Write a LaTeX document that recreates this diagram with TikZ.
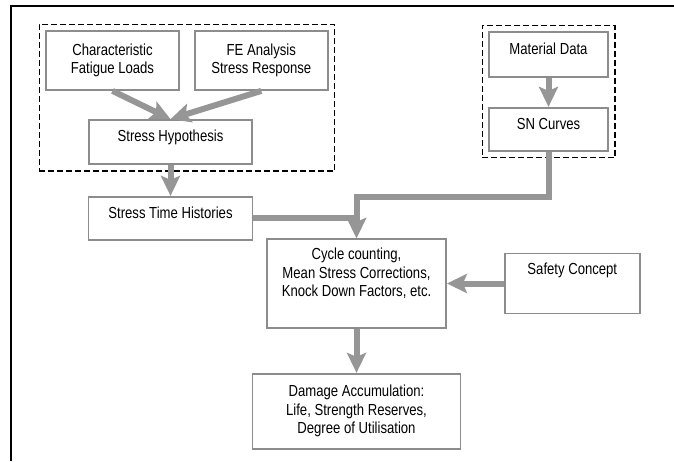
\documentclass[tikz,border=0pt]{standalone}
\usepackage{fontspec}
\setmainfont{Liberation Sans}[FakeStretch=0.82]
\usetikzlibrary{arrows.meta, positioning, fit}
\definecolor{boxgray}{RGB}{140,140,140}
\definecolor{arrowgray}{RGB}{150,150,150}

\begin{document}
\begin{tikzpicture}[
    x=1pt, y=1pt,
    node distance=30pt,
    box/.style={draw=boxgray, line width=1.8pt, rectangle, align=center, inner sep=4pt, font=\fontsize{16}{18.5}\selectfont},
    lift/.style={text height=11.6pt, text depth=#1},
    group/.style={draw, dash pattern=on 6pt off 3pt, line width=1.2pt, inner sep=6pt},
    arrow/.style={-{Stealth[length=20pt, width=19pt, inset=4pt]}, line width=6pt, draw=arrowgray}
]
\useasboundingbox (0,0) rectangle (674,-461);
% frame
\draw[line width=2.5pt] (11,-461) -- (11,-6) -- (674,-6);

% loads and stresses
\node[box, minimum width=133pt, minimum height=59pt] (char) at (112.5,-60.5) {Characteristic\\Fatigue Loads};
\node[box, minimum width=133pt, minimum height=59pt, right=14pt of char] (fe) {FE Analysis\\Stress Response};
\node[box, lift=12.5pt, minimum width=163pt, minimum height=44pt] (hyp) at (170.5,-142) {Stress Hypothesis};
\node[box, lift=12pt, minimum width=164pt, minimum height=43pt, below=31pt of hyp] (sth) {Stress Time Histories};
\node[group, fit=(char)(fe)(hyp)] (loads) {};

% material
\node[box, lift=12pt, minimum width=119pt, minimum height=45pt] (md) at (548.5,-54.5) {Material Data};
\node[box, lift=12pt, minimum width=119pt, minimum height=43pt, below=29pt of md] (sn) {SN Curves};
\node[group, fit=(md)(sn)] (material) {};

% assessment
\node[box, minimum width=179pt, minimum height=89pt] (cycle) at (356.5,-283.5) {Cycle counting,\\Mean Stress Corrections,\\Knock Down Factors, etc.\\[4pt]\mbox{}};
\node[box, lift=29.5pt, minimum width=135pt, minimum height=60pt, right=57pt of cycle] (safety) {Safety Concept};
\node[box, minimum width=208pt, minimum height=75pt, below=44pt of cycle] (dmg) {Damage Accumulation:\\Life, Strength Reserves,\\Degree of Utilisation};

% connectors
\draw[arrow] (char.south) -- (hyp.north);
\draw[arrow] (fe.south) -- (hyp.north);
\draw[arrow] (hyp) -- (sth);
\draw[arrow] (md) -- (sn);
\draw[arrow] (sn.south) -- ++(0,-45) -| (cycle.north);
\draw[arrow] (sth.east) -| (cycle.north);
\draw[arrow] (safety) -- (cycle);
\draw[arrow] (cycle) -- (dmg);
\end{tikzpicture}
\end{document}
